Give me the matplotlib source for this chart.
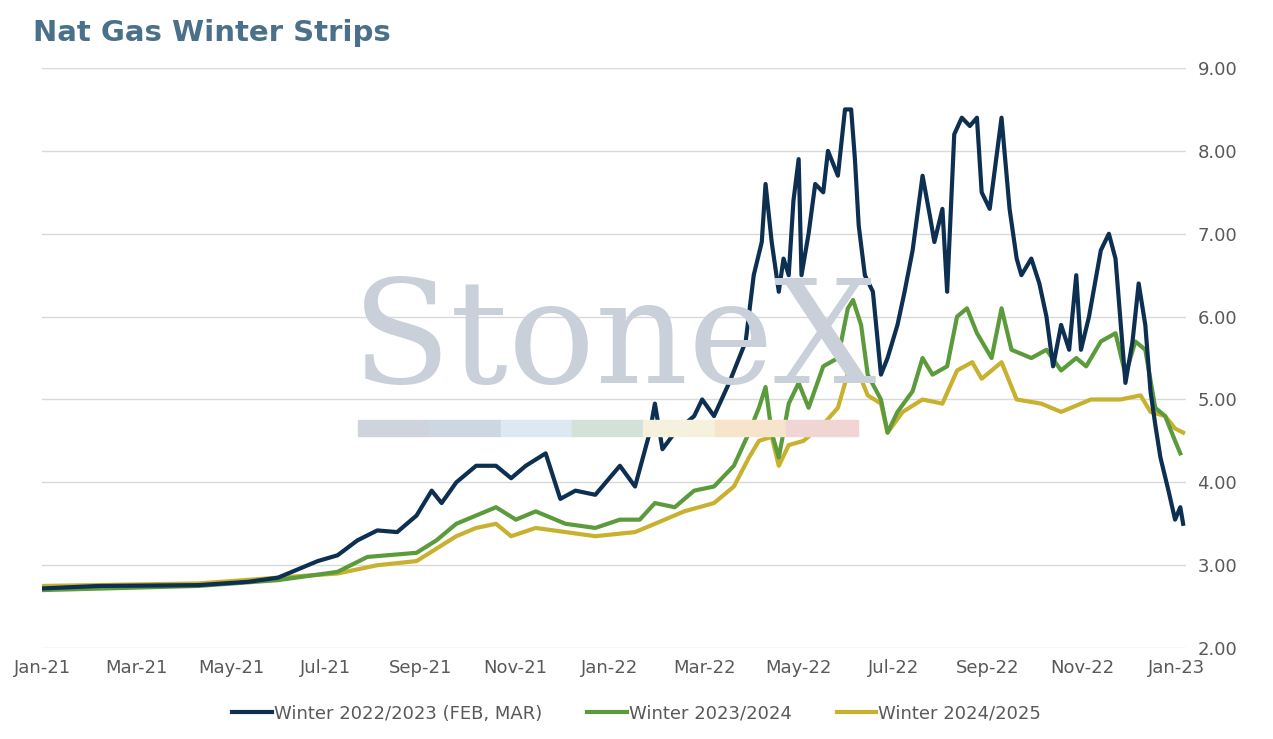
import matplotlib
matplotlib.use("Agg")
import matplotlib.pyplot as plt
from matplotlib.patches import Rectangle

tick_labels = ["Jan-21","Mar-21","May-21","Jul-21","Sep-21","Nov-21","Jan-22","Mar-22","May-22","Jul-22","Sep-22","Nov-22","Jan-23"]

w22_m = [0,1.22,3.31,4.36,4.99,5.41,5.83,6.25,6.67,7.09,7.51,7.92,8.24,8.45,8.76,9.18,9.6,9.92,10.23,10.65,10.96,11.28,11.7,12.22,12.54,12.85,12.96,13.12,13.38,13.79,13.96,14.21,14.53,14.74,14.88,15.05,15.22,15.3,15.43,15.58,15.68,15.79,15.89,16.0,16.06,16.21,16.35,16.52,16.62,16.83,16.98,17.11,17.19,17.27,17.4,17.57,17.74,17.88,18.09,18.24,18.41,18.62,18.78,18.87,19.04,19.14,19.29,19.45,19.62,19.77,19.87,20.04,20.29,20.46,20.61,20.71,20.92,21.09,21.24,21.38,21.55,21.72,21.87,21.97,22.14,22.39,22.56,22.7,22.91,23.06,23.19,23.33,23.44,23.54,23.65,23.82,23.96,24.07,24.13]
w22_v = [2.72,2.75,2.76,2.8,2.85,2.95,3.05,3.12,3.3,3.42,3.4,3.6,3.9,3.75,4.0,4.2,4.2,4.05,4.2,4.35,3.8,3.9,3.85,4.2,3.95,4.6,4.95,4.4,4.6,4.8,5.0,4.8,5.2,5.5,5.7,6.5,6.9,7.6,6.9,6.3,6.7,6.5,7.4,7.9,6.5,7.0,7.6,7.5,8.0,7.7,8.5,8.5,7.9,7.1,6.5,6.3,5.3,5.5,5.9,6.3,6.8,7.7,7.2,6.9,7.3,6.3,8.2,8.4,8.3,8.4,7.5,7.3,8.4,7.3,6.7,6.5,6.7,6.4,6.0,5.4,5.9,5.6,6.5,5.6,6.0,6.8,7.0,6.7,5.2,5.7,6.4,5.9,5.1,4.7,4.3,3.9,3.55,3.7,3.5]

w23_m = [0,3.31,4.99,6.25,6.88,7.92,8.34,8.76,9.18,9.6,10.02,10.44,11.07,11.7,12.22,12.64,12.96,13.38,13.79,14.21,14.63,14.95,15.16,15.3,15.43,15.58,15.79,16.0,16.21,16.52,16.83,17.04,17.15,17.32,17.46,17.74,17.88,18.09,18.41,18.62,18.83,19.14,19.35,19.56,19.77,20.08,20.29,20.5,20.92,21.24,21.55,21.87,22.08,22.39,22.7,22.91,23.12,23.33,23.54,23.75,23.96,24.07]
w23_v = [2.7,2.75,2.82,2.92,3.1,3.15,3.3,3.5,3.6,3.7,3.55,3.65,3.5,3.45,3.55,3.55,3.75,3.7,3.9,3.95,4.2,4.6,4.9,5.15,4.6,4.3,4.95,5.2,4.9,5.4,5.5,6.1,6.2,5.9,5.3,5.0,4.6,4.85,5.1,5.5,5.3,5.4,6.0,6.1,5.8,5.5,6.1,5.6,5.5,5.6,5.35,5.5,5.4,5.7,5.8,5.3,5.7,5.6,4.9,4.8,4.5,4.35]

w24_m = [0,3.31,4.99,6.25,7.09,7.92,8.34,8.76,9.18,9.6,9.92,10.44,11.07,11.7,12.54,12.96,13.58,14.21,14.63,14.95,15.16,15.43,15.58,15.79,16.1,16.52,16.83,17.11,17.25,17.46,17.74,17.88,18.2,18.62,19.04,19.35,19.67,19.87,20.29,20.61,21.13,21.55,22.18,22.81,23.23,23.44,23.75,23.96,24.13]
w24_v = [2.75,2.78,2.85,2.9,3.0,3.05,3.2,3.35,3.45,3.5,3.35,3.45,3.4,3.35,3.4,3.5,3.65,3.75,3.95,4.3,4.5,4.55,4.2,4.45,4.5,4.7,4.9,5.45,5.35,5.05,4.95,4.6,4.85,5.0,4.95,5.35,5.45,5.25,5.45,5.0,4.95,4.85,5.0,5.0,5.05,4.85,4.8,4.65,4.6]

fig = plt.figure(figsize=(12.73, 7.39), dpi=100)
ax = fig.add_axes([0.033, 0.123, 0.899, 0.785])

# watermark
fig.text(0.483, 0.535, "StoneX", fontsize=104, family="DejaVu Serif", color="#c9d0d9", ha="center", va="center", zorder=0)
wm_cols = ["#cfd4dc", "#cdd7e2", "#dce8f2", "#d3e2d8", "#f6f1dd", "#f6e4cc", "#f1d4d4"]
for i, c in enumerate(wm_cols):
    fig.patches.append(Rectangle((0.281 + i*0.0561, 0.41), 0.0561, 0.022, transform=fig.transFigure, color=c, zorder=0))

ax.patch.set_alpha(0)
ax.plot(w24_m, w24_v, color="#c8b12e", lw=3, label="Winter 2024/2025", zorder=3)
ax.plot(w23_m, w23_v, color="#5b9b3b", lw=3, label="Winter 2023/2024", zorder=4)
ax.plot(w22_m, w22_v, color="#0d2f52", lw=3, label="Winter 2022/2023 (FEB, MAR)", zorder=5)

ax.set_xlim(0, 24.2)
ax.set_ylim(2, 9)
ax.set_xticks(range(0, 25, 2))
ax.set_xticklabels(tick_labels)
ax.set_yticks(range(2, 10))
ax.set_yticklabels([f"{v:.2f}" for v in range(2, 10)])
ax.yaxis.tick_right()
ax.grid(axis="y", color="#d9d9d9", lw=1)
for s in ax.spines.values():
    s.set_visible(False)
ax.tick_params(length=0, labelsize=13, colors="#595959", pad=8)

h, l = ax.get_legend_handles_labels()
fig.legend(h[::-1], l[::-1], loc="lower center", bbox_to_anchor=(0.5, 0.0), ncol=3, frameon=False,
           fontsize=13, handlelength=2.2, handletextpad=0.1, columnspacing=2.5, labelcolor="#595959")

fig.text(0.026, 0.955, "Nat Gas Winter Strips", fontsize=21, fontweight="bold", color="#4b7089", va="center")

fig.savefig("out.png", dpi=100)
